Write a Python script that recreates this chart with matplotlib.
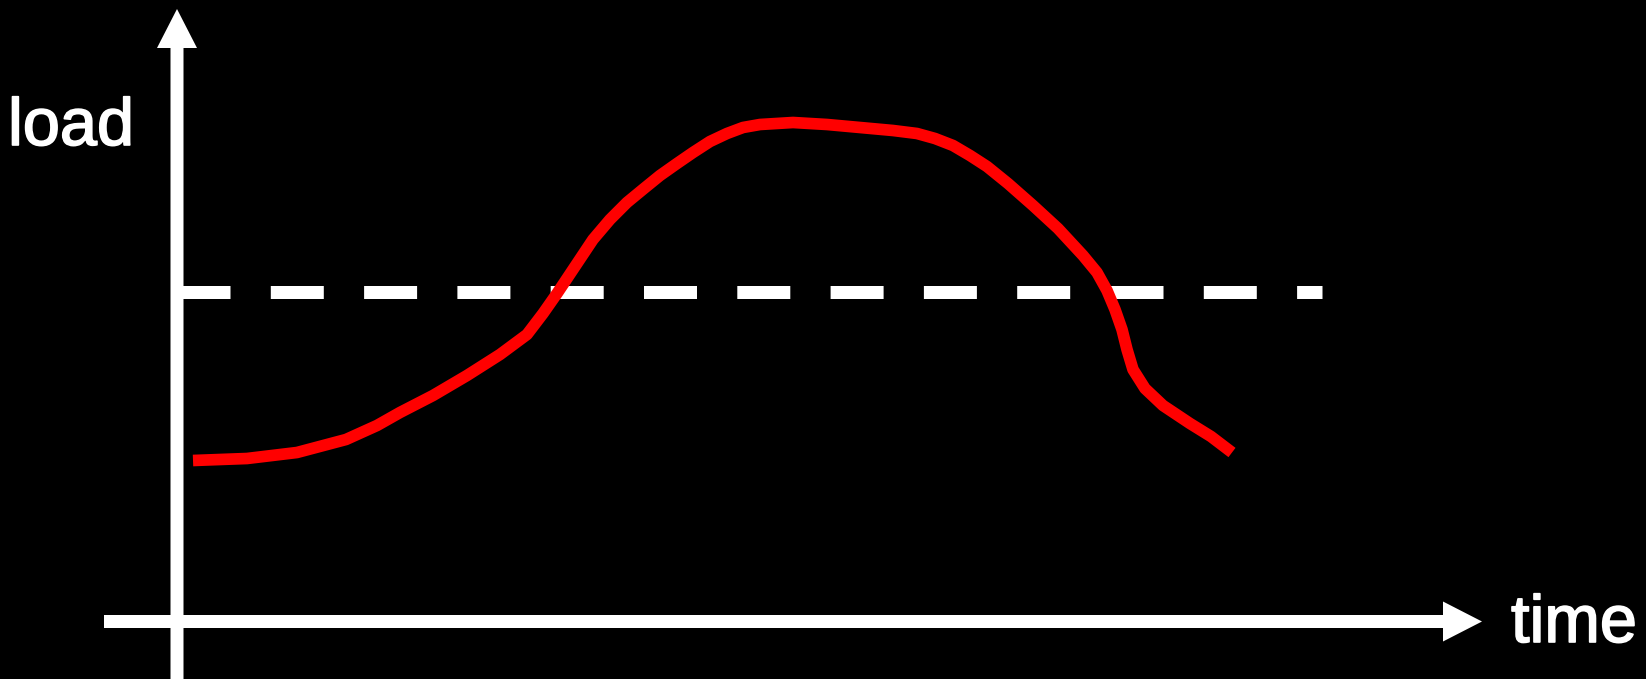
import matplotlib.pyplot as plt
import matplotlib.patheffects as pe

# load curve over time (schematic units, origin at the axis crossing)
time = [16, 70, 120, 169, 200, 223, 256, 290, 323, 350, 366, 380, 396, 416,
        433, 450, 467, 483, 500, 516, 533, 550, 566, 583, 616, 650, 683, 716,
        740, 758, 776, 793, 810, 831, 856, 881, 906, 920, 930, 938, 945, 950,
        956, 968, 986, 1013, 1034, 1055]
load = [161, 163, 169, 182, 196, 209, 226, 246, 267, 287, 308, 328, 352, 382,
        402, 419, 433, 446, 458, 469, 480, 488, 494, 497, 499, 497, 494, 491,
        488, 483, 476, 466, 455, 438, 416, 393, 366, 349, 331, 312, 292, 272,
        252, 233, 216, 198, 185, 169]

threshold = 330
threshold_end = 1145

fig = plt.figure(figsize=(16.46, 6.79), dpi=100, facecolor='black')
ax = fig.add_axes([0, 0, 1, 1])
ax.set_facecolor('black')
ax.set_xlim(-177, 1646 - 177)
ax.set_ylim(621.5 - 679, 621.5)
ax.axis('off')

# axes with arrow heads
ax.arrow(-73, 0, 1305 + 73, 0, width=13, head_width=40, head_length=39,
         length_includes_head=True, fc='white', ec='none', zorder=3)
ax.arrow(0, -80, 0, 612.5 + 80, width=13, head_width=40, head_length=39,
         length_includes_head=True, fc='white', ec='none', zorder=3)

# threshold line
ax.plot([0, threshold_end], [threshold, threshold], color='white', lw=9.36,
        linestyle=(0, (53 / 13, 40.3 / 13)), dash_capstyle='butt', zorder=1)

# load curve
ax.plot(time, load, color='#ff0000', lw=8.4, solid_capstyle='butt',
        solid_joinstyle='round', zorder=2)

bold = [pe.withStroke(linewidth=1.2, foreground='white')]
ax.text(-169, 476.5, 'load', color='white', fontsize=48,
        family='Liberation Sans', ha='left', va='baseline', path_effects=bold)
ax.text(1334, -20.5, 'time', color='white', fontsize=48,
        family='Liberation Sans', ha='left', va='baseline', path_effects=bold)

fig.savefig('out.png', dpi=100, facecolor='black')
